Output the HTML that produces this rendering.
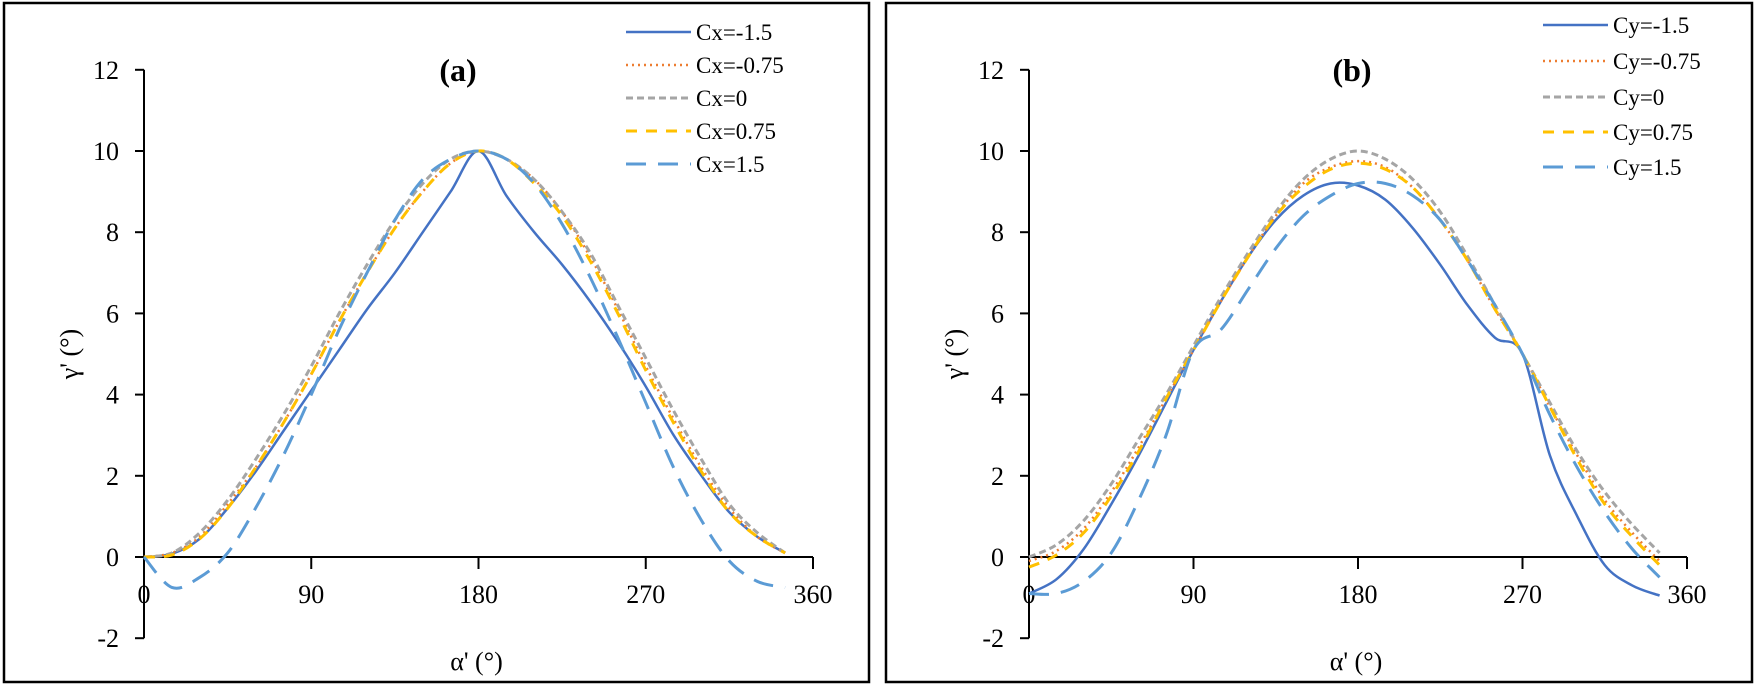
<!DOCTYPE html>
<html><head><meta charset="utf-8"><style>
html,body{margin:0;padding:0;background:#fff;}
svg{display:block;font-family:"Liberation Serif",serif;}
</style></head><body>
<svg id="chart" width="1756" height="686" viewBox="0 0 1756 686" xmlns="http://www.w3.org/2000/svg"></svg>
<script>
const xTicks=[0,90,180,270,360];
const yTicks=[-2,0,2,4,6,8,10,12];
const alpha=[0,15,30,45,60,75,90,105,120,135,150,165,180,195,210,225,240,255,270,285,300,315,330,345];
const aNames=["Cx=-1.5","Cx=-0.75","Cx=0","Cx=0.75","Cx=1.5"];
const aCxm15=[0,0.08,0.45,1.2,2.1,3.1,4.1,5.1,6.1,7.0,8.0,9.0,10,8.9,8.0,7.2,6.3,5.3,4.2,3.0,2.0,1.1,0.5,0.1];
const aCxm075=[0,0.1,0.5,1.3,2.2,3.3,4.5,5.8,7.0,8.1,9.0,9.7,10,9.8,9.3,8.5,7.4,6.1,4.7,3.4,2.2,1.2,0.5,0.1];
const aCx0=[0,0.1,0.6,1.4,2.4,3.5,4.7,6.0,7.2,8.3,9.2,9.8,10,9.8,9.3,8.5,7.5,6.2,4.9,3.6,2.4,1.3,0.6,0.1];
const aCx075=[0,0.05,0.45,1.2,2.2,3.3,4.5,5.8,7.0,8.1,9.0,9.7,10,9.8,9.2,8.4,7.3,6.0,4.6,3.3,2.1,1.1,0.5,0.1];
const aCx15=[0,-0.75,-0.5,0.1,1.2,2.5,4.0,5.6,7.0,8.3,9.3,9.8,10,9.8,9.2,8.2,6.9,5.4,3.8,2.2,0.9,-0.1,-0.6,-0.75];
const bNames=["Cy=-1.5","Cy=-0.75","Cy=0","Cy=0.75","Cy=1.5"];
const bCym15=[-0.9,-0.55,0.2,1.3,2.5,3.8,5.1,6.3,7.4,8.3,8.9,9.2,9.15,8.8,8.1,7.2,6.2,5.4,5.0,2.5,1.0,-0.2,-0.7,-0.95];
const bCym075=[-0.1,0.15,0.7,1.6,2.7,3.9,5.1,6.3,7.4,8.4,9.2,9.6,9.75,9.6,9.1,8.3,7.3,6.1,5.0,3.7,2.5,1.4,0.6,-0.1];
const bCy0=[0,0.3,0.9,1.8,2.9,4.0,5.2,6.4,7.5,8.5,9.3,9.8,10,9.8,9.3,8.5,7.4,6.2,5.0,3.8,2.6,1.6,0.8,0.1];
const bCy075=[-0.25,0.05,0.6,1.5,2.6,3.9,5.1,6.3,7.4,8.4,9.1,9.55,9.7,9.55,9.1,8.3,7.3,6.1,5.0,3.7,2.4,1.3,0.5,-0.2];
const bCy15=[-0.9,-0.9,-0.6,0.1,1.4,3.0,5.1,5.6,6.6,7.6,8.4,8.9,9.2,9.2,8.9,8.3,7.3,6.2,5.0,3.5,2.2,1.1,0.2,-0.5];

const NS="http://www.w3.org/2000/svg";
const svg=document.getElementById('chart');
function mk(tag,attrs,parent){const e=document.createElementNS(NS,tag);for(const k in attrs)e.setAttribute(k,attrs[k]);(parent||svg).appendChild(e);return e;}
const styles=[
 {c:"#4472C4",d:"",w:2.5},
 {c:"#ED7D31",d:"2 4",w:2.5},
 {c:"#A5A5A5",d:"7 4",w:3},
 {c:"#FFC000",d:"11 9",w:3},
 {c:"#5B9BD5",d:"20 12",w:3}
];
function smooth(pts){let d="M"+pts[0][0]+","+pts[0][1];for(let i=0;i<pts.length-1;i++){const p0=pts[Math.max(0,i-1)],p1=pts[i],p2=pts[i+1],p3=pts[Math.min(pts.length-1,i+2)];const c1=[p1[0]+(p2[0]-p0[0])/6,p1[1]+(p2[1]-p0[1])/6],c2=[p2[0]-(p3[0]-p1[0])/6,p2[1]-(p3[1]-p1[1])/6];d+=" C"+c1[0]+","+c1[1]+" "+c2[0]+","+c2[1]+" "+p2[0]+","+p2[1];}return d;}
function panel(cfg){
 const g=mk('g',{});
 
 
 const border=mk('rect',{x:cfg.bx,y:3,width:cfg.bw,height:679,fill:"none",stroke:"#000","stroke-width":2.5},g);
 
 
 const X=v=>cfg.x0+(v/360)*(cfg.x1-cfg.x0);
 const Y=v=>557-v*40.6;
 const ya=mk('line',{x1:cfg.x0,y1:Y(-2),x2:cfg.x0,y2:Y(12),stroke:"#000","stroke-width":2},g);
 
 
 const xa=mk('line',{x1:cfg.x0,y1:Y(0),x2:X(360),y2:Y(0),stroke:"#000","stroke-width":2},g);
 
 
 yTicks.forEach(t=>{
  mk('line',{x1:cfg.x0-9,y1:Y(t),x2:cfg.x0,y2:Y(t),stroke:"#000","stroke-width":2},g);
  const tx=mk('text',{x:cfg.x0-25,y:Y(t)+9,"text-anchor":"end","font-size":26},g);
  tx.textContent=t;
  
  
 });
 xTicks.forEach(t=>{
  mk('line',{x1:X(t),y1:Y(0),x2:X(t),y2:Y(0)+12,stroke:"#000","stroke-width":2},g);
  const tx=mk('text',{x:X(t),y:603,"text-anchor":"middle","font-size":26},g);
  tx.textContent=t;
  
  
 });
 cfg.series.forEach((s,i)=>{
  const pts=alpha.map((a,j)=>[X(a),Y(s[j])]);
  const p=mk('path',{d:smooth(pts),fill:"none",stroke:styles[i].c,"stroke-width":styles[i].w,"stroke-dasharray":styles[i].d},g);
  
  
  const ly=cfg.ly[i];
  const l=mk('line',{x1:cfg.lx,y1:ly,x2:cfg.lx+65,y2:ly,stroke:styles[i].c,"stroke-width":styles[i].w,"stroke-dasharray":styles[i].d},g);
  
  
  const lt=mk('text',{x:cfg.lx+70,y:ly+8,"font-size":23},g);
  lt.textContent=cfg.names[i];
  
  
 });
 const t=mk('text',{x:cfg.tx,y:81,"text-anchor":"middle","font-size":32,"font-weight":"bold"},g);
 t.textContent=cfg.title;
 
 
 const xt=mk('text',{x:(cfg.x0+X(360))/2-2,y:670,"text-anchor":"middle","font-size":26},g);
 xt.textContent="α' (°)";
 
 
 const yt=mk('text',{x:0,y:0,"text-anchor":"middle","font-size":26,transform:"translate("+(cfg.x0-66)+","+Y(5)+") rotate(-90)"},g);
 yt.textContent="γ' (°)";
 
 
}
panel({id:"a",bx:4,bw:865,x0:144,x1:813,lx:626,ly:[32,65,98,131,164],names:aNames,series:[aCxm15,aCxm075,aCx0,aCx075,aCx15],title:"(a)",tx:458});
panel({id:"b",bx:886,bw:866,x0:1029,x1:1687,lx:1543,ly:[25,61,97,132,167],names:bNames,series:[bCym15,bCym075,bCy0,bCy075,bCy15],title:"(b)",tx:1352});
</script>
</body></html>
